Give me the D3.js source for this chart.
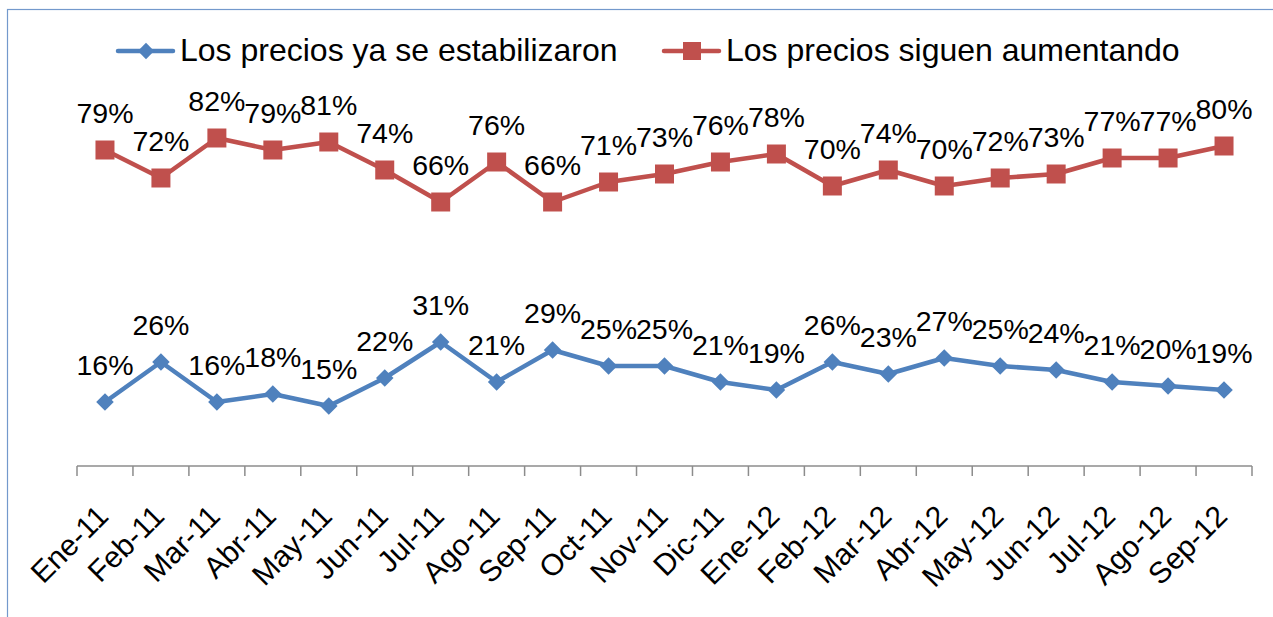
<!DOCTYPE html>
<html>
<head>
<meta charset="utf-8">
<script src="https://cdn.jsdelivr.net/npm/d3@7"></script>
<style>
  body { margin: 0; background: #fff; }
  svg { display: block; font-family: "Liberation Sans", Arial, sans-serif; }
</style>
</head>
<body>
<div id="vis"></div>
<script>
// data
const months = ['Ene-11','Feb-11','Mar-11','Abr-11','May-11','Jun-11','Jul-11','Ago-11','Sep-11','Oct-11','Nov-11','Dic-11',
  'Ene-12','Feb-12','Mar-12','Abr-12','May-12','Jun-12','Jul-12','Ago-12','Sep-12'];
const estabilizaron = [16, 26, 16, 18, 15, 22, 31, 21, 29, 25, 25, 21, 19, 26, 23, 27, 25, 24, 21, 20, 19];
const aumentando = [79, 72, 82, 79, 81, 74, 66, 76, 66, 71, 73, 76, 78, 70, 74, 70, 72, 73, 77, 77, 80];
const seriesNames = ['Los precios ya se estabilizaron', 'Los precios siguen aumentando'];

const W = 1273, H = 617;
const blue = '#4F81BD', red = '#C0504D';

const svg = d3.select('#vis').append('svg')
  .attr('width', W).attr('height', H);

// frame (only left/top edges visible in the picture)
svg.append('rect')
  .attr('x', 7.5).attr('y', 9.5)
  .attr('width', W + 20).attr('height', H + 20)
  .attr('fill', 'none').attr('stroke', '#7399cc').attr('stroke-width', 1.2);

const x = d3.scaleBand().domain(months).range([77, 1252]);
const y = d3.scaleLinear().domain([0, 100]).range([466, 66]);
const cx = d => x(d) + x.bandwidth() / 2;

// x axis
const gx = svg.append('g').attr('transform', 'translate(0,466)');
gx.append('line').attr('x1', 77).attr('x2', 1252)
  .attr('stroke', '#8c8c8c').attr('stroke-width', 1.5);
gx.selectAll('.tick')
  .data(months.concat(['end']))
  .enter().append('line')
  .attr('x1', (d, i) => i < months.length ? x(d) : x.range()[1])
  .attr('x2', (d, i) => i < months.length ? x(d) : x.range()[1])
  .attr('y1', 0).attr('y2', 10)
  .attr('stroke', '#8c8c8c').attr('stroke-width', 1.5);

svg.append('g').selectAll('text')
  .data(months).enter().append('text')
  .attr('transform', d => `translate(${cx(d) + 5},518) rotate(-45)`)
  .attr('text-anchor', 'end')
  .attr('font-size', 30)
  .attr('fill', '#000')
  .text(d => d);

const line = d3.line().x((v, i) => cx(months[i])).y(v => y(v));

function drawSeries(values, color, shape) {
  const g = svg.append('g');
  g.append('path').datum(values)
    .attr('d', line)
    .attr('fill', 'none').attr('stroke', color).attr('stroke-width', 4.5)
    .attr('stroke-linejoin', 'round');
  const sym = shape === 'square'
    ? d3.symbol().type(d3.symbolSquare).size(19 * 19)
    : d3.symbol().type(d3.symbolDiamond2).size(14 * 14);
  g.selectAll('.m').data(values).enter().append('path')
    .attr('d', sym)
    .attr('transform', (v, i) => `translate(${cx(months[i])},${y(v)})`)
    .attr('fill', color);
  g.selectAll('.lbl').data(values).enter().append('text')
    .attr('x', (v, i) => cx(months[i]))
    .attr('y', v => y(v) - 27)
    .attr('text-anchor', 'middle')
    .attr('font-size', 28.5)
    .text(v => v + '%');
}

drawSeries(aumentando, red, 'square');
drawSeries(estabilizaron, blue, 'diamond');

// legend
const legend = [
  { name: seriesNames[0], color: blue, shape: 'diamond', x0: 118 },
  { name: seriesNames[1], color: red, shape: 'square', x0: 664 }
];
const lg = svg.append('g');
legend.forEach(l => {
  lg.append('line').attr('x1', l.x0).attr('x2', l.x0 + 55)
    .attr('y1', 51).attr('y2', 51)
    .attr('stroke', l.color).attr('stroke-width', 4.5).attr('stroke-linecap', 'round');
  lg.append('path')
    .attr('d', l.shape === 'square'
      ? d3.symbol().type(d3.symbolSquare).size(18 * 18)()
      : d3.symbol().type(d3.symbolDiamond2).size(13 * 13)())
    .attr('transform', `translate(${l.x0 + 28},51)`)
    .attr('fill', l.color);
  lg.append('text').attr('x', l.x0 + 62).attr('y', 61)
    .attr('font-size', 32).text(l.name);
});
</script>
</body>
</html>
